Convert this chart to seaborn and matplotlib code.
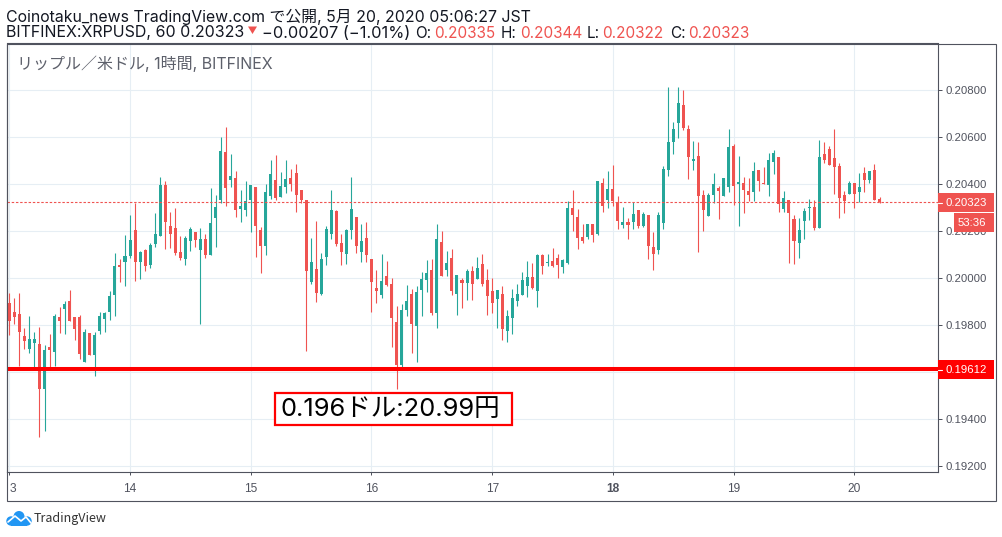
import numpy as np
import pandas as pd
import matplotlib
matplotlib.use('Agg')
import matplotlib.pyplot as plt
import seaborn as sns
from matplotlib.lines import Line2D
from matplotlib.patches import Circle, Polygon, Rectangle
from matplotlib.transforms import Affine2D

# hourly XRPUSD candles, in 0.00001 price points
opens = [19895, 19857, 19848, 19755, 19699, 19725, 19721, 19529, 19708, 19687,
         19835, 19869, 19904, 19835, 19835, 19644, 19767, 19674, 19776, 19827,
         19857, 19929, 20057, 20069, 20095, 20206, 20069, 20121, 20057, 20146,
         20180, 20397, 20223, 20214, 20112, 20082, 20159, 20197, 20121, 20167,
         20099, 20257, 20333, 20538, 20418, 20427, 20295, 20291, 20333, 20389,
         20206, 20137, 20350, 20418, 20346, 20389, 20427, 20448, 20376, 20333,
         19984, 20040, 19933, 20091, 20189, 20286, 20150, 20103, 20206, 20261,
         20112, 20172, 20082, 19959, 19929, 20010, 19976, 19814, 19631, 19865,
         19933, 19797, 19950, 19993, 20035, 19852, 20155, 20035, 20087, 19933,
         19993, 19980, 20031, 19997, 20061, 19993, 19946, 19912, 19933, 19776,
         19831, 19904, 19929, 19967, 20006, 19946, 20099, 20065, 20074, 20087,
         20048, 20065, 20299, 20261, 20176, 20176, 20231, 20189, 20406, 20333,
         20380, 20325, 20227, 20240, 20240, 20291, 20223, 20269, 20133, 20121,
         20235, 20461, 20580, 20661, 20738, 20635, 20499, 20521, 20355, 20265,
         20355, 20384, 20350, 20389, 20563, 20401, 20406, 20372, 20367, 20461,
         20406, 20397, 20495, 20516, 20295, 20333, 20252, 20150, 20244, 20299,
         20304, 20214, 20529, 20550, 20512, 20478, 20355, 20359, 20406, 20367,
         20448, 20418, 20461, 20335]
closes = [19816, 19835, 19772, 19733, 19742, 19742, 19529, 19695, 19695, 19840,
          19818, 19891, 19818, 19784, 19678, 19772, 19674, 19759, 19840, 19852,
          19925, 20052, 20048, 20095, 20163, 20069, 20112, 20052, 20142, 20189,
          20397, 20240, 20189, 20108, 20087, 20172, 20210, 20163, 20167, 20099,
          20235, 20304, 20542, 20384, 20435, 20291, 20308, 20329, 20397, 20223,
          20137, 20367, 20444, 20342, 20393, 20423, 20401, 20355, 20333, 20031,
          20069, 19938, 20082, 20210, 20291, 20146, 20112, 20206, 20295, 20137,
          20159, 20099, 19984, 19946, 19989, 19972, 19831, 19631, 19865, 19904,
          19806, 19942, 19997, 20023, 19852, 20167, 20010, 20065, 19946, 20014,
          19980, 20031, 19976, 20044, 19976, 19925, 19895, 19950, 19784, 19840,
          19916, 19933, 19993, 20006, 19959, 20099, 20052, 20069, 20052, 20057,
          20078, 20299, 20269, 20172, 20159, 20231, 20184, 20414, 20308, 20380,
          20329, 20244, 20240, 20227, 20274, 20223, 20274, 20137, 20103, 20269,
          20465, 20580, 20635, 20746, 20640, 20516, 20508, 20350, 20291, 20355,
          20401, 20372, 20427, 20559, 20393, 20410, 20376, 20355, 20457, 20414,
          20401, 20503, 20533, 20316, 20342, 20278, 20159, 20206, 20286, 20304,
          20214, 20516, 20503, 20482, 20474, 20342, 20329, 20406, 20359, 20389,
          20418, 20457, 20333, 20323]
highs = [19938, 19916, 19938, 19789, 19840, 19772, 19793, 19716, 19763, 19848,
         19878, 19904, 19950, 19835, 19844, 19784, 19767, 19772, 19857, 19857,
         19946, 20108, 20082, 20184, 20269, 20321, 20116, 20125, 20150, 20278,
         20431, 20414, 20282, 20299, 20180, 20180, 20218, 20197, 20214, 20189,
         20384, 20355, 20601, 20644, 20529, 20457, 20376, 20414, 20397, 20389,
         20218, 20401, 20503, 20525, 20452, 20503, 20465, 20486, 20376, 20333,
         20172, 20244, 20108, 20223, 20376, 20291, 20189, 20210, 20431, 20261,
         20231, 20240, 20082, 20035, 20103, 20074, 20001, 19882, 19891, 19972,
         19955, 19967, 20027, 20078, 20082, 20231, 20201, 20116, 20125, 20014,
         20001, 20040, 20052, 20091, 20103, 20040, 20001, 19950, 19967, 19865,
         19955, 19976, 20027, 20074, 20065, 20103, 20103, 20103, 20129, 20103,
         20082, 20329, 20376, 20295, 20231, 20231, 20231, 20414, 20427, 20457,
         20482, 20350, 20304, 20257, 20325, 20291, 20282, 20269, 20197, 20282,
         20478, 20814, 20665, 20814, 20801, 20652, 20584, 20580, 20376, 20363,
         20448, 20393, 20427, 20635, 20572, 20521, 20431, 20427, 20495, 20461,
         20474, 20533, 20546, 20516, 20372, 20333, 20269, 20257, 20299, 20338,
         20333, 20589, 20580, 20563, 20635, 20491, 20372, 20414, 20406, 20448,
         20474, 20457, 20486, 20344]
lows = [19759, 19806, 19627, 19699, 19682, 19617, 19325, 19350, 19617, 19627,
        19767, 19763, 19818, 19738, 19657, 19644, 19674, 19584, 19763, 19772,
        19823, 19840, 19984, 19967, 20087, 19989, 19997, 20031, 20044, 20133,
        20180, 20125, 20129, 20099, 20078, 20057, 20116, 20133, 19806, 20087,
        20099, 20133, 20321, 20308, 20389, 20261, 20240, 20265, 20197, 20091,
        20023, 20099, 20338, 20333, 20346, 20363, 20372, 20282, 20321, 19691,
        19976, 19899, 19929, 20057, 20167, 20137, 20057, 20061, 20167, 20108,
        20069, 20069, 19857, 19895, 19916, 19967, 19708, 19529, 19621, 19840,
        19682, 19644, 19840, 19942, 19844, 19789, 20010, 20010, 19929, 19844,
        19874, 19908, 19908, 19997, 19967, 19844, 19852, 19789, 19738, 19729,
        19763, 19882, 19929, 19920, 19955, 19878, 20018, 20052, 20048, 20001,
        20023, 20061, 20201, 20125, 20150, 20167, 20155, 20184, 20282, 20299,
        20308, 20210, 20214, 20167, 20210, 20214, 20218, 20082, 20035, 20103,
        20210, 20435, 20529, 20597, 20631, 20423, 20461, 20112, 20201, 20265,
        20321, 20252, 20350, 20367, 20312, 20223, 20278, 20329, 20329, 20372,
        20401, 20350, 20444, 20282, 20282, 20065, 20061, 20087, 20167, 20248,
        20206, 20214, 20491, 20482, 20359, 20257, 20278, 20359, 20299, 20325,
        20367, 20406, 20333, 20322]

day_ticks = [0, 24, 48, 72, 96, 120, 144, 168]
day_labels = ['3', '14', '15', '16', '17', '18', '19', '20']
price_ticks = [0.192, 0.194, 0.196, 0.198, 0.200, 0.202, 0.204, 0.206, 0.208]
# 0.19600 sits right behind the level label, so its text stays empty
price_labels = ['0.19200', '0.19400', '', '0.19800', '0.20000', '0.20200', '0.20400', '0.20600', '0.20800']
last_price = 0.20323
level_price = 0.19612

UP = '#26a69a'
DOWN = '#ef5350'
LEVEL = '#ff0000'
FRAME = '#50535e'
GRID = '#e6eef4'
TEXT = '#131722'
AXIS_TEXT = '#50535e'
W, H = 1002, 537

sns.set_theme(style='white')
plt.rcParams['font.family'] = ['Liberation Sans', 'Noto Sans CJK JP', 'DejaVu Sans']
plt.rcParams['axes.unicode_minus'] = False

df = pd.DataFrame({'open': opens, 'high': highs, 'low': lows, 'close': closes}) / 100000
df['idx'] = np.arange(len(df))
df['body'] = (df['close'] - df['open']).abs()
df['bottom'] = df[['open', 'close']].min(axis=1)
df['up'] = df['close'] >= df['open']

fig = plt.figure(figsize=(W / 100, H / 100), dpi=100, facecolor='white')
ax = fig.add_axes([6.5 / W, 1 - 471.5 / H, 931.2 / W, 428 / H])

# pixel coordinates of the saved picture, for everything outside the price pane
pixel = Affine2D().scale(1, -1).translate(0, H)

for is_up, colour in [(True, UP), (False, DOWN)]:
    part = df[df['up'] == is_up]
    sns.barplot(data=part, x='idx', y='body', bottom=part['bottom'], native_scale=True,
                width=0.6, color=colour, saturation=1, linewidth=0, errorbar=None,
                ax=ax, zorder=3)
    wicks = ax.vlines(part['idx'], part['low'], part['high'], colors=colour, linewidth=0.8, zorder=3)
    wicks.set_snap(True)

ax.axhline(last_price, color=DOWN, linewidth=0.8, linestyle=(0, (2.2, 1.6)), zorder=4)
ax.axhline(level_price, color=LEVEL, linewidth=2.9, zorder=5)

ax.set_xlim(-0.557, 184.57)
ax.set_ylim(0.19177, 0.20999)
ax.set_xlabel('')
ax.set_ylabel('')
ax.set_xticks(day_ticks, day_labels)
ax.set_yticks(price_ticks, price_labels)
ax.yaxis.tick_right()
ax.grid(True, color=GRID, linewidth=0.8)
ax.set_axisbelow(True)
ax.tick_params(axis='y', length=2.9, width=0.72, pad=2.9, color=FRAME, labelcolor=AXIS_TEXT, labelsize=8.2)
ax.tick_params(axis='x', length=2.2, width=0.72, pad=6, color=FRAME, labelcolor=AXIS_TEXT, labelsize=8.6)
ax.tick_params(bottom=True, right=True, left=False)
for spine in ax.spines.values():
    spine.set_color(FRAME)
    spine.set_linewidth(0.8)
xlabels = ax.get_xticklabels()
xlabels[0].set_ha('left')
xlabels[5].set_fontweight('bold')

# outer frame around pane and time scale
fig.add_artist(Rectangle((6.5, 43.5), 989, 457, fill=False, edgecolor=FRAME, linewidth=0.8,
                         transform=pixel, zorder=1))


def label_box(x0, y0, x1, y1, colour, text, text_x):
    fig.add_artist(Rectangle((x0, y0), x1 - x0, y1 - y0, facecolor=colour, edgecolor='none',
                             transform=pixel, zorder=6))
    fig.text(text_x, (y0 + y1) / 2 + 0.5, text, color='white', fontsize=8.2, ha='left', va='center',
             transform=pixel, zorder=7)


label_box(938, 193, 994, 211.5, DOWN, '0.20323', 945.7)
label_box(954, 213, 994, 232, DOWN, '53:36', 958)
label_box(938, 360, 994, 378.5, LEVEL, '0.19612', 945.7)
for y in [202.5, 369.5]:
    fig.add_artist(Line2D([938, 942], [y, y], color='white', linewidth=0.8, transform=pixel, zorder=7))

# header lines
jp = ['Inter', 'Noto Sans CJK JP', 'DejaVu Sans']
fig.text(6, 17, 'Coinotaku_news TradingView.com で公開, 5月 20, 2020 05:06:27 JST', color=TEXT,
         fontsize=11.4, family=jp, va='center', transform=pixel)
header_parts = [
    (6, 'BITFINEX:XRPUSD, 60 0.20323', TEXT, 11.5),
    (262, '−0.00207 (−1.01%)', TEXT, 11.8),
    (415, 'O:', TEXT, 11), (434, '0.20335', DOWN, 11),
    (501, 'H:', TEXT, 11), (520, '0.20344', DOWN, 11),
    (587, 'L:', TEXT, 11), (602, '0.20322', DOWN, 11),
    (670, 'C:', TEXT, 11), (688, '0.20323', DOWN, 11),
]
for x, text, colour, size in header_parts:
    fig.text(x, 33, text, color=colour, fontsize=size, family=jp, va='center', transform=pixel)
fig.add_artist(Polygon([(248, 26.5), (257, 26.5), (252.5, 34)], facecolor=DOWN, edgecolor='none', transform=pixel))

fig.text(17, 63.5, 'リップル／米ドル, 1時間, BITFINEX', color='#5d606b', fontsize=11.5, family=jp,
         va='center', transform=pixel, zorder=7)

# hand drawn note on the level line
fig.add_artist(Rectangle((275, 393), 237, 32, facecolor='white', edgecolor=LEVEL, linewidth=1.6,
                         transform=pixel, zorder=6))
fig.text(281, 410, '0.196ドル:20.99円', color='black', fontsize=18.4, family=['Inter', 'Noto Sans CJK JP'],
         va='center', transform=pixel, zorder=7)

# logo
blue = '#2196f3'
for cx, cy, r in [(11, 521, 4.7), (19, 516.5, 5.5), (27, 521, 4.7)]:
    fig.add_artist(Circle((cx, cy), r, facecolor=blue, edgecolor='none', transform=pixel, zorder=2))
fig.add_artist(Rectangle((11, 520), 16, 5.7, facecolor=blue, edgecolor='none', transform=pixel, zorder=2))
fig.add_artist(Line2D([8, 15, 21, 26, 31], [522, 516, 521, 517, 523], color='white', linewidth=1.2,
                      transform=pixel, zorder=3))
fig.text(34, 518.5, 'TradingView', color='#333333', fontsize=9, family=['Noto Sans CJK JP'], va='center', transform=pixel)

plt.savefig('out.png', dpi=100, facecolor='white')
